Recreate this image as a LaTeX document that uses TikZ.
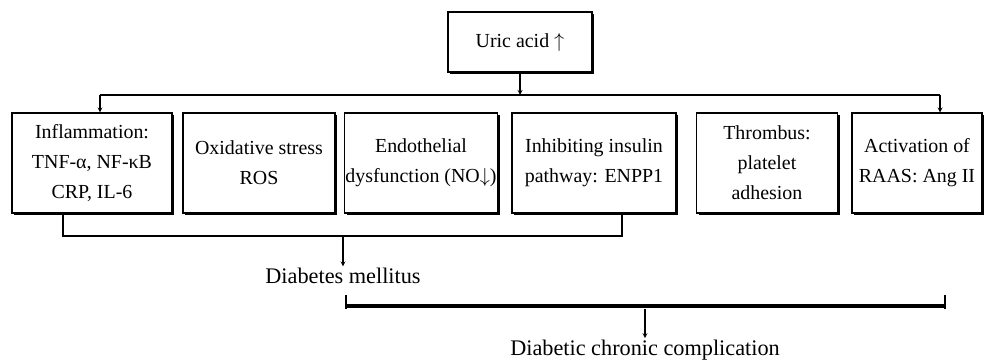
\documentclass[tikz,border=0pt]{standalone}
\usepackage{fontspec}
\setmainfont{Liberation Serif}
\usetikzlibrary{shadows}

\begin{document}
\begin{tikzpicture}[x=0.03cm,y=-0.03cm,>=stealth,line width=0.9pt,
	cause/.style={draw,fill=white,align=center,inner sep=1pt,minimum height=3cm,
		font=\fontsize{17}{25.5}\selectfont,
		drop shadow={shadow xshift=2pt,shadow yshift=-2pt,fill=black,opacity=1}},
	result/.style={inner sep=1pt,font=\fontsize{19}{22}\selectfont}]
	\useasboundingbox (0,0) rectangle (985,361);

	\node[cause,minimum width=4.32cm,minimum height=1.8cm] (uric) at (520,42) {Uric acid $\uparrow$};

	\node[cause,minimum width=4.8cm] (inflam) at (92,163) {Inflammation:\\TNF-α, NF-κB\\CRP, IL-6};
	\node[cause,minimum width=4.56cm] (oxid) at (259,163) {Oxidative stress\\ROS};
	\node[cause,minimum width=4.53cm] (endo) at (421,163) {Endothelial\\dysfunction (NO$\downarrow$)};
	\node[cause,minimum width=4.92cm] (insul) at (594,163) {Inhibiting insulin\\pathway: ENPP1};
	\node[cause,minimum width=4.23cm] (throm) at (767,163) {Thrombus:\\platelet\\adhesion};
	\node[cause,minimum width=3.9cm] (raas) at (917,163) {Activation of\\RAAS: Ang II};

	\node[result] (dm) at (343,276) {Diabetes mellitus};
	\node[result] (dcc) at (645,350) {Diabetic chronic complication};

	\coordinate (split) at (520,95);
	\coordinate (splitl) at (100,95);
	\coordinate (splitr) at (940,95);
	\draw[->] (uric) -- (split);
	\draw (splitl) -- (splitr);
	\draw[->] (splitl) -- (splitl |- inflam.north);
	\draw[->] (splitr) -- (splitr |- raas.north);

	\coordinate (dml) at (63,236);
	\coordinate (dmr) at (622,236);
	\coordinate (dmmid) at (343,236);
	\draw (dml |- inflam.south) -- (dml) -- (dmr) -- (dmr |- insul.south);
	\draw[->] (dmmid) -- (dmmid |- dm.north);

	\coordinate (dcctl) at (346,295);
	\coordinate (dcctr) at (945,295);
	\coordinate (dccmid) at (645,309);
	\draw (dcctl) -- ++(0,14);
	\draw (dcctr) -- ++(0,14);
	\draw[line width=4pt] ([yshift=-0.33cm]dcctl) -- ([yshift=-0.33cm]dcctr);
	\draw[->] (dccmid) -- (dccmid |- dcc.north);
\end{tikzpicture}
\end{document}
